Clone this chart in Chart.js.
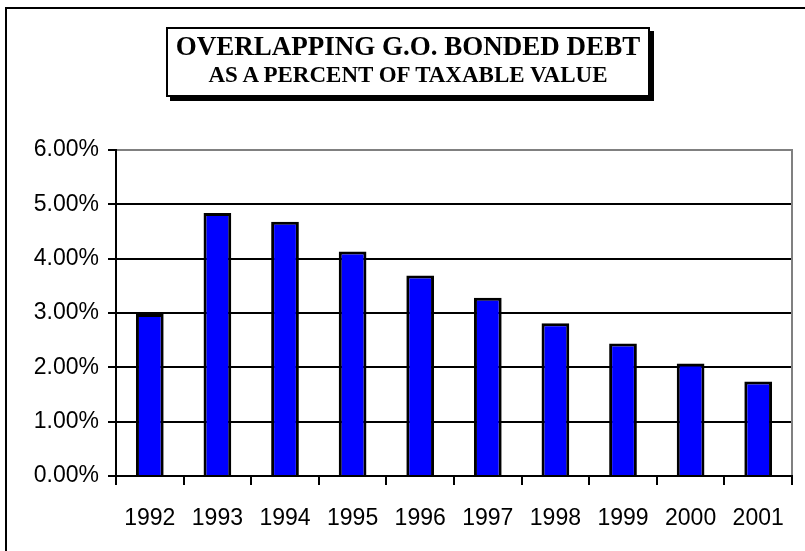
<!DOCTYPE html>
<html>
<head>
<meta charset="utf-8">
<script src="https://cdn.jsdelivr.net/npm/chart.js@4.4.0/dist/chart.umd.min.js"></script>
<style>
  html, body { margin: 0; padding: 0; background: #fff; overflow: hidden; }
  .wrap { position: relative; width: 805px; height: 551px; }
  .title-box {
    position: absolute;
    left: 166px;
    top: 27px;
    width: 484px;
    height: 70px;
    box-sizing: border-box;
    border: 2px solid #000;
    background: #fff;
    box-shadow: 4px 4px 0 #000;
    text-align: center;
    font-family: 'Liberation Serif', 'Times New Roman', serif;
    font-weight: bold;
    color: #000;
    padding-top: 3px;
  }
  .title-box .l1 { font-size: 27px; line-height: 28px; }
  .title-box .l2 { font-size: 23px; line-height: 24px; margin-top: 3px; }
</style>
</head>
<body>
<div class="wrap">
  <canvas id="chart" width="805" height="551"></canvas>
  <div class="title-box">
    <div class="l1">OVERLAPPING G.O. BONDED DEBT</div>
    <div class="l2">AS A PERCENT OF TAXABLE VALUE</div>
  </div>
</div>
<script>
// values
const years = ['1992', '1993', '1994', '1995', '1996', '1997', '1998', '1999', '2000', '2001'];
const debtPercent = [2.98, 4.84, 4.68, 4.13, 3.69, 3.28, 2.81, 2.44, 2.07, 1.74];
const yMin = 0;
const yMax = 6;
const yStep = 1;

const axisFont = { family: "'Liberation Sans', Arial, sans-serif", size: 23 };

// white page, outer frame and the grey plot border (top and right)
const framePlugin = {
  id: 'frame',
  beforeDraw(chart) {
    const { ctx, width, height } = chart;
    ctx.save();
    ctx.fillStyle = '#fff';
    ctx.fillRect(0, 0, width, height);
    ctx.strokeStyle = '#000';
    ctx.lineWidth = 2;
    ctx.beginPath();
    ctx.moveTo(6, height + 5);
    ctx.lineTo(6, 8);
    ctx.lineTo(width + 5, 8);
    ctx.stroke();
    ctx.restore();
  },
  afterDraw(chart) {
    const { ctx, chartArea } = chart;
    ctx.save();
    ctx.strokeStyle = '#808080';
    ctx.lineWidth = 2;
    ctx.beginPath();
    ctx.moveTo(chartArea.left + 1, chartArea.top);
    ctx.lineTo(chartArea.right, chartArea.top);
    ctx.lineTo(chartArea.right, chartArea.bottom - 1);
    ctx.stroke();
    ctx.restore();
  },
};

new Chart(document.getElementById('chart').getContext('2d'), {
  type: 'bar',
  data: {
    labels: years,
    datasets: [{
      data: debtPercent,
      backgroundColor: '#0000ff',
      borderColor: '#000',
      borderWidth: 3,
      borderSkipped: 'bottom',
      barPercentage: 0.41,
      categoryPercentage: 1,
    }],
  },
  options: {
    responsive: false,
    animation: false,
    events: [],
    layout: { padding: { left: 0, top: 150, right: 13, bottom: 0 } },
    plugins: {
      legend: { display: false },
      tooltip: { enabled: false },
    },
    scales: {
      x: {
        afterFit(scale) { scale.height = 75; },
        grid: {
          drawOnChartArea: false,
          drawTicks: true,
          tickLength: 9,
          color: '#000',
          lineWidth: 2,
          offset: true,
        },
        border: { color: '#000', width: 2 },
        ticks: {
          color: '#000',
          font: axisFont,
          padding: 20,
          maxRotation: 0,
          autoSkip: false,
        },
      },
      y: {
        min: yMin,
        max: yMax,
        afterFit(scale) { scale.width = 116; },
        grid: {
          color: ctx => (ctx.tick && ctx.tick.value === yMax ? '#808080' : '#000'),
          tickColor: '#000',
          lineWidth: 2,
          tickLength: 8,
        },
        border: { color: '#000', width: 2 },
        ticks: {
          stepSize: yStep,
          color: '#000',
          font: axisFont,
          padding: 9,
          callback: v => v.toFixed(2) + '%',
        },
      },
    },
  },
  plugins: [framePlugin],
});
</script>
</body>
</html>
